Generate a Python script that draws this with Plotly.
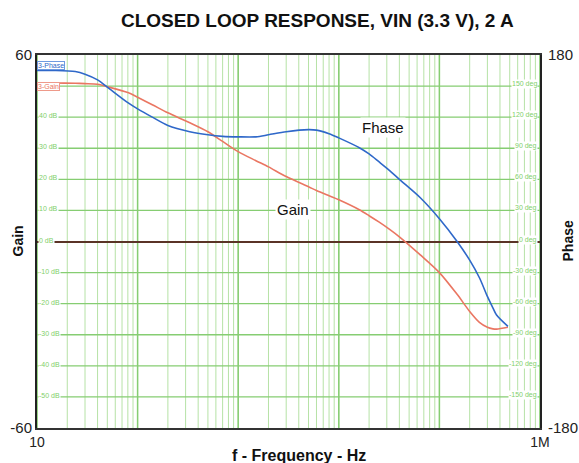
import plotly.graph_objects as go

# Closed-loop Bode data: frequency (Hz), gain (dB), phase (deg)
freq_hz = [10, 15, 24, 30, 40, 50, 80, 100, 140, 200, 330, 500, 700, 1000, 1500,
           2000, 3000, 5000, 6000, 8000, 10000, 16000, 20000, 25000, 32000, 40000, 65000,
           100000, 150000, 200000, 250000, 300000, 340000, 370000, 480000]
gain_db = [51.0, 51.0, 50.9, 50.8, 50.6, 49.8, 47.9, 46.4, 44.0, 41.4, 38.2, 35.3,
           32.2, 28.9, 26.0, 24.0, 20.9, 17.6, 16.4, 14.7, 13.4, 10.2, 8.3, 6.3, 3.9, 1.5,
           -4.4, -10.0, -17.0, -22.5, -26.0, -27.6, -28.1, -28.2, -27.6]
phase_deg = [165, 165, 164, 161.5, 156, 149, 134, 128, 120, 112, 106, 103, 101.5,
             101, 101, 103, 106, 108, 107.5, 104, 100, 90.5, 84.5, 77, 68.5, 60, 42,
             22, 0, -18, -35, -53, -64, -71, -82]

# Axis end labels
x_tick_vals = [10, 1e6]
x_tick_text = ["10", "1M"]
gain_tick_vals = [-60, 60]
gain_tick_text = ["-60", "60"]
phase_tick_vals = [-180, 180]
phase_tick_text = ["-180", "180"]

# Inner scale labels of the analyzer grid
gain_grid_db = [40, 30, 20, 10, 0, -10, -20, -30, -40, -50]
phase_grid_deg = [150, 120, 90, 60, 30, 0, -30, -60, -90, -120, -150]
decade_hz = [10, 100, 1000, 10000, 100000]
decade_text = ["10 Hz", "100 Hz", "1 kHz", "10 kHz", "100 kHz"]

GAIN_COLOR = "#ea7662"
PHASE_COLOR = "#2f68c9"
GRID_MAJOR = "#86cd72"
GRID_MINOR = "#b6e2a6"
LABEL_GREEN = "#7fcf6a"
FONT = "Liberation Sans, Arial, sans-serif"

# every 1..9 multiple within the five decades
grid_x = [m * d for d in [10, 100, 1000, 10000, 100000] for m in range(1, 10)] + [1e6]

fig = go.Figure()
fig.add_trace(go.Scatter(x=freq_hz, y=gain_db, mode="lines", name="3-Gain",
                         line=dict(color=GAIN_COLOR, width=1.6, shape="spline", smoothing=0.8),
                         yaxis="y"))
fig.add_trace(go.Scatter(x=freq_hz, y=phase_deg, mode="lines", name="3-Phase",
                         line=dict(color=PHASE_COLOR, width=1.6, shape="spline", smoothing=0.8),
                         yaxis="y2"))

shapes = []
# light minor verticals
for gx in grid_x:
    shapes.append(dict(type="line", xref="x", yref="paper", x0=gx, x1=gx, y0=0, y1=1,
                       line=dict(color=GRID_MINOR, width=1), layer="below"))
# darker decade lines
for d in decade_hz + [1e6]:
    shapes.append(dict(type="line", xref="x", yref="paper", x0=d, x1=d, y0=0, y1=1,
                       line=dict(color=GRID_MAJOR, width=1.5), layer="below"))
# 10 dB horizontals
for gy in range(-50, 60, 10):
    if gy != 0:
        shapes.append(dict(type="line", xref="paper", yref="y", x0=0, x1=1, y0=gy, y1=gy,
                           line=dict(color=GRID_MAJOR, width=1.3), layer="below"))

annotations = []
for v in gain_grid_db:
    annotations.append(dict(x=0, xref="paper", y=v, yref="y", text=f"{v} dB",
                            showarrow=False, xanchor="left", yanchor="bottom",
                            xshift=1, yshift=-3, bgcolor="white", borderpad=0,
                            font=dict(family=FONT, size=7, color=LABEL_GREEN)))
for v in phase_grid_deg:
    annotations.append(dict(x=1, xref="paper", y=v, yref="y2", text=f"{v} deg",
                            showarrow=False, xanchor="right", yanchor="bottom",
                            xshift=-2, yshift=-3, bgcolor="white", borderpad=0,
                            font=dict(family=FONT, size=7, color=LABEL_GREEN)))
for d, t in zip(decade_hz, decade_text):
    annotations.append(dict(x=d, xref="x", y=0, yref="paper", text=t, textangle=-90,
                            showarrow=False, xanchor="left", yanchor="bottom",
                            xshift=0, yshift=2,
                            font=dict(family=FONT, size=7, color=LABEL_GREEN)))

# trace tags in the upper-left corner
annotations.append(dict(x=0, xref="paper", y=1, yref="paper", text="3-Phase",
                        showarrow=False, xanchor="left", yanchor="top", yshift=-6,
                        bgcolor="white", bordercolor="#6f9be0", borderwidth=1, borderpad=0,
                        font=dict(family=FONT, size=7, color=PHASE_COLOR)))
annotations.append(dict(x=0, xref="paper", y=1, yref="paper", text="3-Gain",
                        showarrow=False, xanchor="left", yanchor="top", yshift=-27,
                        bgcolor="white", bordercolor="#ee9a8a", borderwidth=1, borderpad=0,
                        font=dict(family=FONT, size=7, color=GAIN_COLOR)))

# curve labels
annotations.append(dict(x=4.44, xref="x", y=110.5, yref="y2", text="Fhase", showarrow=False,
                        bgcolor="white", font=dict(family=FONT, size=15, color="#111")))
annotations.append(dict(x=3.545, xref="x", y=10.2, yref="y", text="Gain", showarrow=False,
                        bgcolor="white", font=dict(family=FONT, size=15, color="#111")))

# axis titles
annotations.append(dict(x=0.5, xref="paper", y=0, yref="paper", text="<b>f - Frequency - Hz</b>",
                        showarrow=False, yanchor="top", yshift=-17, xshift=10,
                        font=dict(family=FONT, size=16, color="#111")))
annotations.append(dict(x=0, xref="paper", y=0.5, yref="paper", text="<b>Gain</b>",
                        textangle=-90, showarrow=False, xanchor="center", xshift=-20,
                        font=dict(family=FONT, size=14, color="#111")))
annotations.append(dict(x=1, xref="paper", y=0.5, yref="paper", text="<b>Phase</b>",
                        textangle=-90, showarrow=False, xanchor="center", xshift=27,
                        font=dict(family=FONT, size=14, color="#111")))

fig.update_layout(
    width=579, height=463,
    margin=dict(l=37, r=39, t=55, b=35, autoexpand=False),
    paper_bgcolor="white", plot_bgcolor="white",
    showlegend=False,
    title=dict(text="<b>CLOSED LOOP RESPONSE, VIN (3.3 V), 2 A</b>", x=0.548, xanchor="center",
               y=0.957, yanchor="middle", font=dict(family=FONT, size=19, color="#111")),
    font=dict(family=FONT, size=14, color="#222"),
    xaxis=dict(type="log", range=[1, 6], showgrid=False, zeroline=False, automargin=False,
               tickvals=x_tick_vals, ticktext=x_tick_text, ticks="",
               showline=True, linecolor="#333", linewidth=2, mirror=True,
               tickfont=dict(size=14)),
    yaxis=dict(range=[-60, 60], tickvals=gain_tick_vals, ticktext=gain_tick_text,
               ticks="", showgrid=False, zeroline=True, zerolinecolor="#5a3326",
               zerolinewidth=1.5, showline=True, linecolor="#222", linewidth=2,
               mirror=True, tickfont=dict(size=15), automargin=False),
    yaxis2=dict(range=[-180, 180], overlaying="y", side="right",
                tickvals=phase_tick_vals, ticktext=phase_tick_text, ticks="",
                ticklabelstandoff=7, automargin=False,
                showgrid=False, zeroline=False, tickfont=dict(size=15)),
    shapes=shapes,
    annotations=annotations,
)

fig.write_html("out.html")
